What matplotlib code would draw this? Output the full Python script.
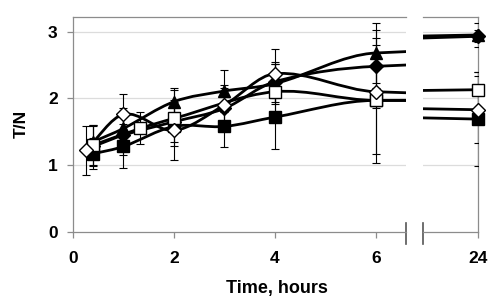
import numpy as np
import matplotlib
matplotlib.use('Agg')
import matplotlib.pyplot as plt
from matplotlib.path import Path
from matplotlib.patches import PathPatch

plt.rcParams['font.family'] = ['Liberation Sans', 'DejaVu Sans']
plt.rcParams['font.weight'] = 'bold'

# filled square
sq_t = [0.4, 1, 2, 3, 4, 6, 24]
sq_y = [1.17, 1.28, 1.58, 1.58, 1.72, 1.97, 1.69]
sq_e = [0.23, 0.33, 0.1, 0.31, 0.48, 0.11, 0.71]
# filled diamond
fd_t = [0.4, 1, 2, 3, 4, 6, 24]
fd_y = [1.28, 1.45, 1.65, 1.85, 2.25, 2.48, 2.93]
fd_e = [0.3, 0.3, 0.3, 0.3, 0.3, 0.32, 0.09]
# filled triangle
tr_t = [0.4, 1, 2, 3, 4, 6, 24]
tr_y = [1.35, 1.55, 1.95, 2.11, 2.22, 2.68, 2.95]
tr_e = [0.25, 0.3, 0.2, 0.31, 0.3, 0.45, 0.18]
# open square
os_t = [0.4, 1.33, 2, 4, 6, 24]
os_y = [1.30, 1.55, 1.70, 2.10, 1.97, 2.13]
os_e = [0.3, 0.24, 0.42, 0.42, 0.94, 0.26]
# open diamond
od_t = [0.25, 1, 2, 3, 4, 6, 24]
od_y = [1.22, 1.76, 1.52, 1.90, 2.37, 2.10, 1.83]
od_e = [0.37, 0.31, 0.45, 0.3, 0.37, 0.93, 0.5]

series = [
    (sq_t, sq_y, sq_e, 's', 'black', 8),
    (fd_t, fd_y, fd_e, 'D', 'black', 7),
    (tr_t, tr_y, tr_e, '^', 'black', 9),
    (os_t, os_y, os_e, 's', 'white', 8),
    (od_t, od_y, od_e, 'D', 'white', 7),
]

x_ticks_left = [0, 2, 4, 6]
x_ticks_right = [24]
y_ticks = [0, 1, 2, 3]


def smooth_path(t, y):
    # smoothed line: cubic bezier segments, tangents from neighbouring points
    t = np.asarray(t, float)
    y = np.asarray(y, float)
    m = np.gradient(y, t, edge_order=1)
    m[1:-1] = (y[2:] - y[:-2]) / (t[2:] - t[:-2])
    verts = [(t[0], y[0])]
    codes = [Path.MOVETO]
    for i in range(len(t) - 1):
        h = (t[i + 1] - t[i]) / 3
        verts += [(t[i] + h, y[i] + m[i] * h),
                  (t[i + 1] - h, y[i + 1] - m[i + 1] * h),
                  (t[i + 1], y[i + 1])]
        codes += [Path.CURVE4] * 3
    return Path(verts, codes)


fig = plt.figure(figsize=(5, 3.08), dpi=100)
ax1 = fig.add_axes([0.146, 0.247, 0.666, 0.698])
ax2 = fig.add_axes([0.846, 0.247, 0.110, 0.698])

grey = '#8c8c8c'
for ax in (ax1, ax2):
    ax.set_ylim(0, 3.22)
    ax.set_yticks(y_ticks)
    for v in y_ticks[1:]:
        ax.axhline(v, color='#dcdcdc', lw=0.9, zorder=0)
    for t, y, e, m, fc, ms in series:
        ax.add_patch(PathPatch(smooth_path(t, y), fill=False, edgecolor='black',
                               lw=2.0, zorder=2))
        ax.errorbar(t, y, yerr=e, fmt='none', ecolor='black', elinewidth=0.8,
                    capsize=3, capthick=0.8, zorder=3)
        ax.plot(t, y, ls='none', marker=m, ms=ms, mfc=fc, mec='black', mew=1.0,
                zorder=4, clip_on=False)
    for s in ax.spines.values():
        s.set_color(grey)
        s.set_linewidth(0.9)
    ax.tick_params(colors=grey, length=4, width=0.9, labelcolor='black',
                   labelsize=12.5)

ax1.set_xlim(0, 6.6)
ax1.set_xticks(x_ticks_left)
ax1.spines['right'].set_visible(False)
ax1.tick_params(axis='x', pad=10)
ax1.tick_params(axis='y', pad=7)

ax2.set_xlim(22.91, 24)
ax2.set_xticks(x_ticks_right)
ax2.spines['left'].set_visible(False)
ax2.tick_params(axis='y', left=False, labelleft=False)
ax2.tick_params(axis='x', pad=10)

# axis break marks
ax1.plot([1, 1], [-0.055, 0.04], transform=ax1.transAxes, color='#555555',
         lw=1.2, clip_on=False)
ax2.plot([0, 0], [-0.055, 0.04], transform=ax2.transAxes, color='#555555',
         lw=1.2, clip_on=False)

ax1.set_ylabel('T/N', fontsize=12.5, fontweight='bold', labelpad=14)
fig.text(0.553, 0.062, 'Time, hours', ha='center', va='center',
         fontsize=13, fontweight='bold')

fig.savefig('out.png', dpi=100)
